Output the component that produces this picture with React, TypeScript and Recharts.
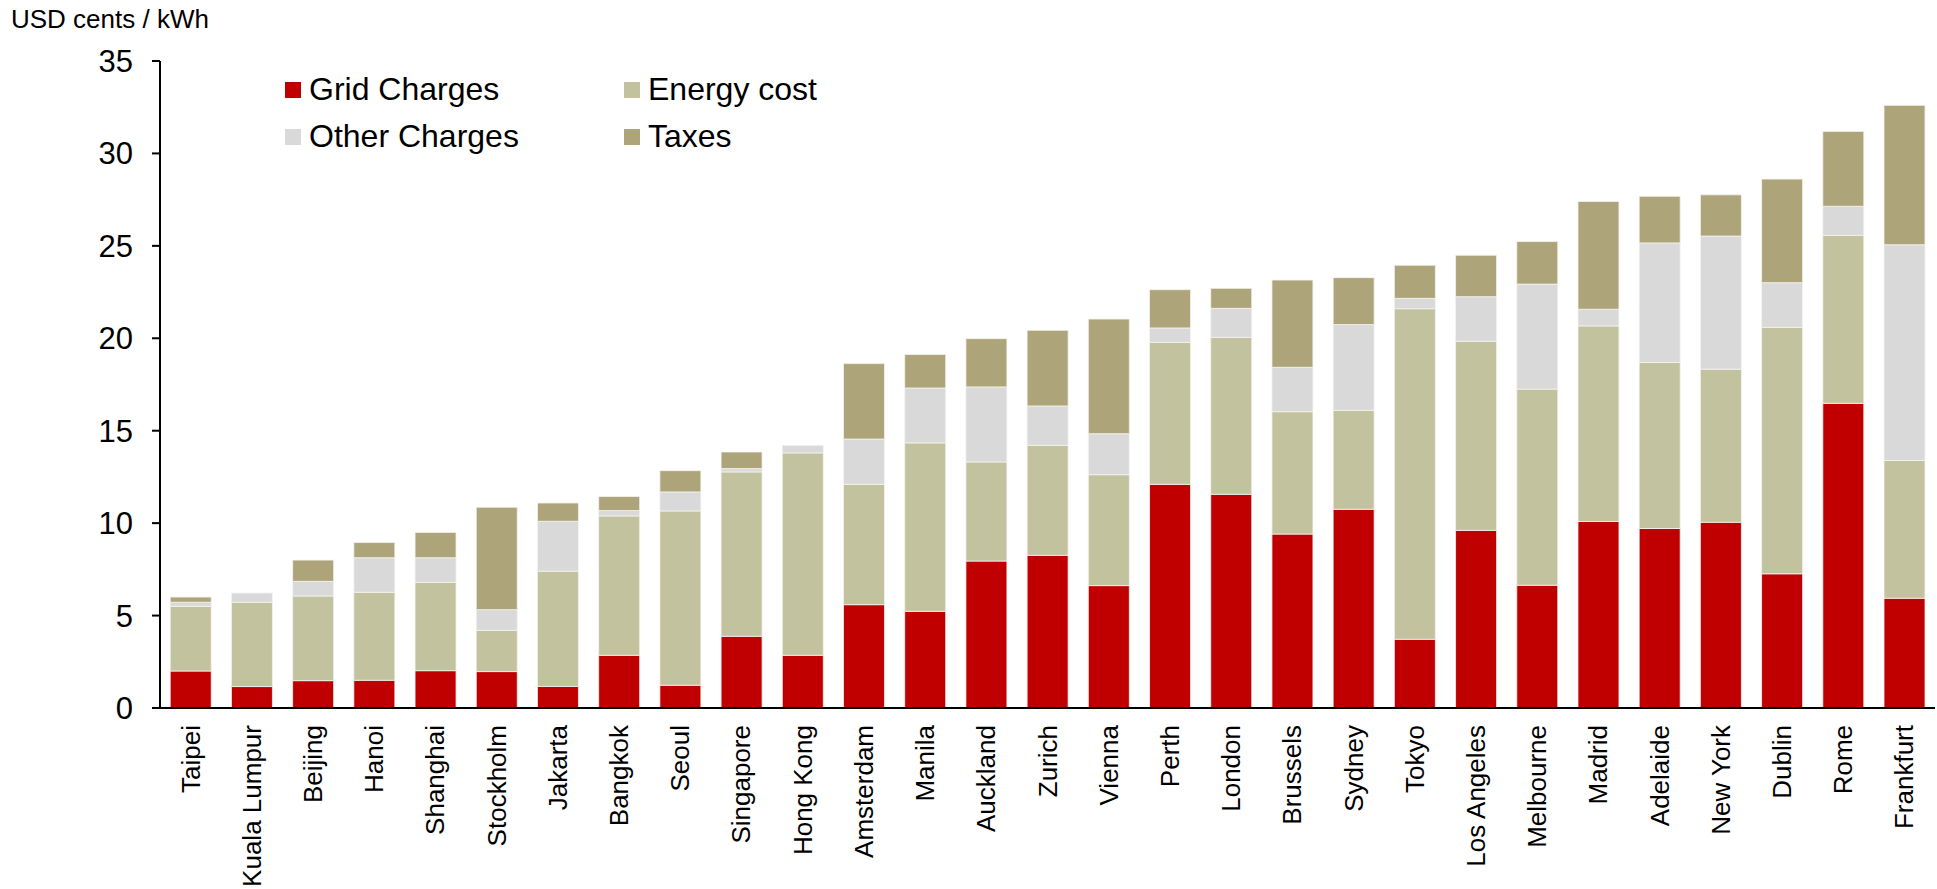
import { BarChart, Bar, XAxis, YAxis } from 'recharts';

const FONT = '"Liberation Sans", Arial, Helvetica, sans-serif';

const cities = [
  'Taipei', 'Kuala Lumpur', 'Beijing', 'Hanoi', 'Shanghai', 'Stockholm', 'Jakarta',
  'Bangkok', 'Seoul', 'Singapore', 'Hong Kong', 'Amsterdam', 'Manila', 'Auckland',
  'Zurich', 'Vienna', 'Perth', 'London', 'Brussels', 'Sydney', 'Tokyo',
  'Los Angeles', 'Melbourne', 'Madrid', 'Adelaide', 'New York', 'Dublin', 'Rome', 'Frankfurt',
];

// USD cents / kWh
const gridCharges = [
  2.0, 1.16, 1.48, 1.5, 2.02, 1.97, 1.17,
  2.85, 1.23, 3.88, 2.85, 5.59, 5.23, 7.95,
  8.26, 6.62, 12.1, 11.56, 9.41, 10.75, 3.72,
  9.61, 6.64, 10.09, 9.71, 10.05, 7.26, 16.48, 5.94,
];
const energyCost = [
  3.5, 4.56, 4.58, 4.76, 4.78, 2.23, 6.23,
  7.54, 9.43, 8.89, 10.95, 6.51, 9.11, 5.36,
  5.95, 6.0, 7.68, 8.49, 6.62, 5.35, 17.88,
  10.23, 10.61, 10.58, 8.98, 8.28, 13.33, 9.09, 7.45,
];
const otherCharges = [
  0.22, 0.5, 0.79, 1.87, 1.33, 1.12, 2.7,
  0.29, 1.03, 0.18, 0.41, 2.45, 2.97, 4.06,
  2.13, 2.22, 0.78, 1.57, 2.4, 4.64, 0.56,
  2.41, 5.68, 0.9, 6.47, 7.2, 2.42, 1.57, 11.67,
];
const taxes = [
  0.28, 0, 1.15, 0.82, 1.37, 5.54, 0.99,
  0.76, 1.15, 0.9, 0, 4.08, 1.81, 2.61,
  4.09, 6.2, 2.07, 1.08, 4.72, 2.54, 1.79,
  2.24, 2.3, 5.83, 2.52, 2.23, 5.6, 4.05, 7.54,
];
const yTicks = [0, 5, 10, 15, 20, 25, 30, 35];

const series = [
  { key: 'grid', name: 'Grid Charges', color: '#C00000' },
  { key: 'energy', name: 'Energy cost', color: '#C3C29E' },
  { key: 'other', name: 'Other Charges', color: '#D9D9D9' },
  { key: 'taxes', name: 'Taxes', color: '#AEA47A' },
];

const data = cities.map((city, i) => ({
  city,
  grid: gridCharges[i],
  energy: energyCost[i],
  other: otherCharges[i],
  taxes: taxes[i],
}));

const CityTick = ({ x, y, payload }: any) => (
  <g transform={`translate(${x},${y})`}>
    <text
      transform="rotate(-90)"
      x={-17}
      y={0}
      textAnchor="end"
      dominantBaseline="central"
      fontSize={26}
      fontFamily={FONT}
      fill="#000"
    >
      {payload.value}
    </text>
  </g>
);

const UnitLabel = () => (
  <text x={11} y={28} fontSize={26} fontFamily={FONT} fill="#000">
    USD cents / kWh
  </text>
);

export default function App() {
  return (
    <div style={{ position: 'absolute', left: 0, top: 0, width: 1937, height: 889, background: '#fff' }}>
      <BarChart
        width={1937}
        height={889}
        data={data}
        margin={{ top: 61, right: 2, left: 0, bottom: 0 }}
        barCategoryGap="16.7%"
      >
        <XAxis
          dataKey="city"
          interval={0}
          height={181}
          tickSize={0}
          tickMargin={0}
          tickLine={false}
          axisLine={{ stroke: '#000', strokeWidth: 2 }}
          tick={<CityTick />}
        />
        <YAxis
          width={160}
          domain={[0, 35]}
          ticks={yTicks}
          interval={0}
          tickSize={8}
          tickMargin={19}
          axisLine={{ stroke: '#000', strokeWidth: 2 }}
          tickLine={{ stroke: '#000', strokeWidth: 2 }}
          tick={{ fontSize: 31, fill: '#000', fontFamily: FONT }}
          label={{ content: () => <UnitLabel /> }}
        />
        {series.map((s) => (
          <Bar
            key={s.key}
            dataKey={s.key}
            name={s.name}
            stackId="cost"
            fill={s.color}
            stroke="#f4f4f0"
            strokeWidth={0.8}
            isAnimationActive={false}
          />
        ))}
      </BarChart>
      <div
        style={{
          position: 'absolute',
          left: 285,
          top: 66,
          display: 'grid',
          gridTemplateColumns: '339px 260px',
          gridAutoRows: '47px',
          fontFamily: FONT,
          fontSize: 32,
          color: '#000',
        }}
      >
        {series.map((s) => (
          <div key={s.key} style={{ display: 'flex', alignItems: 'center', height: 47 }}>
            <span style={{ width: 16, height: 16, background: s.color, marginRight: 8, display: 'inline-block' }} />
            <span style={{ lineHeight: '47px', whiteSpace: 'nowrap' }}>{s.name}</span>
          </div>
        ))}
      </div>
    </div>
  );
}
